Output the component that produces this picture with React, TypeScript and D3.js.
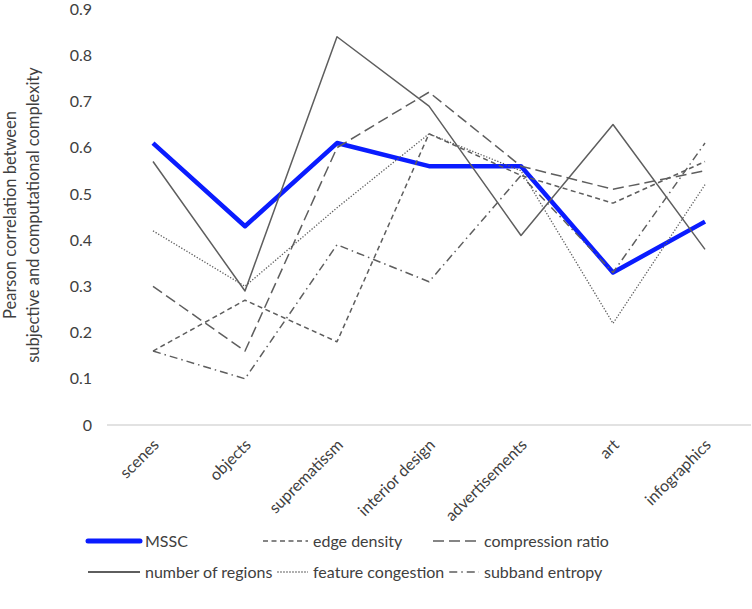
import React, { useEffect, useRef } from 'react';
import * as d3 from 'd3';

const categories = ['scenes', 'objects', 'suprematissm', 'interior design', 'advertisements', 'art', 'infographics'];

const mssc = [0.61, 0.43, 0.61, 0.56, 0.56, 0.33, 0.44];
const edgeDensity = [0.16, 0.27, 0.18, 0.63, 0.54, 0.48, 0.57];
const compressionRatio = [0.30, 0.16, 0.60, 0.72, 0.56, 0.51, 0.55];
const numberOfRegions = [0.57, 0.29, 0.84, 0.69, 0.41, 0.65, 0.38];
const featureCongestion = [0.42, 0.30, 0.47, 0.63, 0.55, 0.22, 0.52];
const subbandEntropy = [0.16, 0.10, 0.39, 0.31, 0.54, 0.33, 0.61];

const yTicks = [0, 0.1, 0.2, 0.3, 0.4, 0.5, 0.6, 0.7, 0.8, 0.9];

const GRAY = '#5e5e5e';
const BLUE = '#0a1cff';
const TEXT = '#404040';
const FONT = 'Lato, "Open Sans", sans-serif';

const series = [
    { name: 'MSSC', values: mssc, color: BLUE, width: 4.5, dash: null },
    { name: 'edge density', values: edgeDensity, color: GRAY, width: 1.5, dash: '5,3.5' },
    { name: 'compression ratio', values: compressionRatio, color: GRAY, width: 1.5, dash: '11,5' },
    { name: 'number of regions', values: numberOfRegions, color: GRAY, width: 1.5, dash: null },
    { name: 'feature congestion', values: featureCongestion, color: GRAY, width: 1.3, dash: '1.3,1.7' },
    { name: 'subband entropy', values: subbandEntropy, color: GRAY, width: 1.5, dash: '8,4,1.5,4' },
];

const App: React.FC = () => {
    const chartRef = useRef<SVGSVGElement | null>(null);

    useEffect(() => {
        if (!chartRef.current) return;

        const width = 752;
        const height = 609;
        const plot = { left: 107, right: 751, top: 9, bottom: 425 };

        d3.select(chartRef.current).selectAll('*').remove();

        const svg = d3.select(chartRef.current)
            .attr('width', width)
            .attr('height', height)
            .style('font-family', FONT);

        const x = d3.scaleBand<string>()
            .domain(categories)
            .range([plot.left, plot.right]);
        const cx = (c: string) => x(c)! + x.bandwidth() / 2;

        const y = d3.scaleLinear()
            .domain([0, 0.9])
            .range([plot.bottom, plot.top]);

        // baseline
        svg.append('line')
            .attr('x1', plot.left).attr('x2', plot.right)
            .attr('y1', y(0)).attr('y2', y(0))
            .attr('stroke', '#d9d9d9')
            .attr('stroke-width', 1.5);

        // y tick labels
        const yAxis = svg.append('g')
            .attr('transform', `translate(92, 0)`)
            .call(d3.axisLeft(y).tickValues(yTicks).tickSize(0).tickPadding(0)
                .tickFormat(d => (+d === 0 ? '0' : (+d).toFixed(1))));
        yAxis.select('.domain').remove();
        yAxis.selectAll('text')
            .style('font-family', FONT)
            .style('font-size', '16px')
            .style('fill', TEXT);

        // x labels, rotated
        svg.selectAll('text.xlab')
            .data(categories)
            .enter()
            .append('text')
            .attr('class', 'xlab')
            .attr('transform', d => `translate(${cx(d) + 3}, 442) rotate(-45)`)
            .attr('text-anchor', 'end')
            .attr('dy', '0.35em')
            .style('font-size', '16px')
            .style('fill', TEXT)
            .text(d => d);

        // y title
        const title = svg.append('text')
            .attr('transform', 'translate(0, 215) rotate(-90)')
            .attr('text-anchor', 'middle')
            .style('font-size', '16.5px')
            .style('fill', TEXT);
        title.append('tspan').attr('x', 0).attr('y', 16).text('Pearson correlation between');
        title.append('tspan').attr('x', 0).attr('y', 39).text('subjective and computational complexity');

        const line = d3.line<number>()
            .x((d, i) => cx(categories[i]))
            .y(d => y(d));

        series.forEach(s => {
            svg.append('path')
                .datum(s.values)
                .attr('fill', 'none')
                .attr('stroke', s.color)
                .attr('stroke-width', s.width)
                .attr('stroke-dasharray', s.dash)
                .attr('stroke-linejoin', 'round')
                .attr('d', line);
        });

        // legend: 3 columns, 2 rows; a symbol starts after the previous text if that runs long
        const colSym = [[88, 140], [263, 308], [433, 479]];
        const rowY = [541, 572];
        let prevEnd = 0;
        series.forEach((s, i) => {
            const col = i % 3;
            const row = Math.floor(i / 3);
            if (col === 0) prevEnd = 0;
            const [x1, x2] = colSym[col];
            const start = Math.max(x1, prevEnd + 5);
            const ly = rowY[row];
            svg.append('line')
                .attr('x1', start).attr('x2', x2)
                .attr('y1', ly).attr('y2', ly)
                .attr('stroke', s.color)
                .attr('stroke-width', s.name === 'MSSC' ? 5 : (s.dash ? 1.5 : 2))
                .attr('stroke-linecap', s.name === 'MSSC' ? 'round' : 'butt')
                .attr('stroke-dasharray', s.dash);
            const t = svg.append('text')
                .attr('x', x2 + 5)
                .attr('y', ly)
                .attr('dy', '0.35em')
                .style('font-size', '16px')
                .style('fill', TEXT)
                .text(s.name);
            prevEnd = x2 + 5 + (t.node() as SVGTextElement).getComputedTextLength();
        });
    }, []);

    return <svg ref={chartRef} style={{ position: 'absolute', left: 0, top: 0 }} />;
};

export default App;
